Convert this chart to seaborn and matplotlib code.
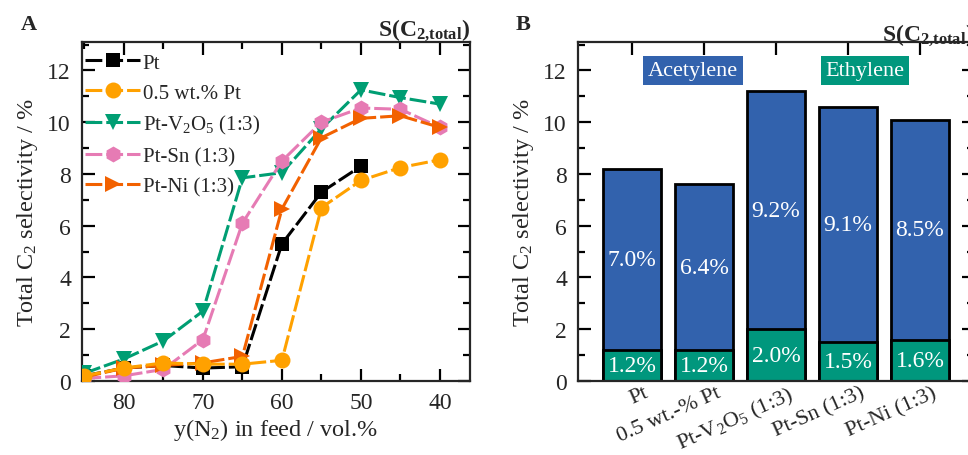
import numpy as np
import pandas as pd
import matplotlib
matplotlib.use("Agg")
import matplotlib.pyplot as plt
import matplotlib.transforms as mtransforms
from matplotlib.lines import Line2D
from matplotlib.ticker import MultipleLocator
import seaborn as sns

# ---------------- data ----------------
n2_feed = [85, 80, 75, 70, 65, 60, 55, 50, 45, 40]
sel_pt = [0.2, 0.5, 0.6, 0.5, 0.55, 5.3, 7.3, 8.3, np.nan, np.nan]
sel_pt05 = [0.2, 0.5, 0.7, 0.65, 0.65, 0.8, 6.7, 7.75, 8.25, 8.55]
sel_ptv = [0.3, 0.85, 1.55, 2.7, 7.85, 8.05, 9.75, 11.25, 10.95, 10.7]
sel_ptsn = [0.1, 0.2, 0.45, 1.6, 6.1, 8.5, 10.0, 10.55, 10.5, 9.8]
sel_ptni = [0.15, 0.5, 0.6, 0.7, 0.95, 6.65, 9.4, 10.15, 10.25, 9.8]
series_names = ["Pt", "0.5 wt.% Pt", "Pt-V$_2$O$_5$ (1:3)", "Pt-Sn (1:3)", "Pt-Ni (1:3)"]

catalysts = ["Pt", "0.5 wt.-% Pt", "Pt-V$_2$O$_5$ (1:3)", "Pt-Sn (1:3)", "Pt-Ni (1:3)"]
acetylene = [7.0, 6.4, 9.2, 9.1, 8.5]
ethylene = [1.2, 1.2, 2.0, 1.5, 1.6]

# ---------------- style ----------------
sns.set_style("ticks")
plt.rcParams["font.family"] = ["Liberation Serif", "DejaVu Serif"]
plt.rcParams["mathtext.fontset"] = "custom"
plt.rcParams["mathtext.rm"] = "Liberation Serif"
plt.rcParams["mathtext.it"] = "Liberation Serif:italic"
plt.rcParams["mathtext.bf"] = "Liberation Serif:bold"

colors = ["#000000", "#FFA100", "#009E73", "#E67BB4", "#F26100"]
markers = ["s", "o", "v", "h", ">"]
msizes = [10, 11.5, 11.5, 11.5, 11.5]
zorders = [3, 6, 4, 5, 5.5]
dash = (0, (5.5, 1.3))
blue = "#3262AD"
green = "#00977D"

LBL = 17.5
TICK = 17

fig = plt.figure(figsize=(9.68, 4.56), dpi=100)
axA = fig.add_axes([82 / 968, 74 / 456, 388 / 968, 339 / 456])
axB = fig.add_axes([578 / 968, 74 / 456, 396 / 968, 339 / 456])


def style_axis(ax):
    for s in ax.spines.values():
        s.set_linewidth(1.6)
        s.set_visible(True)
    ax.tick_params(which="both", direction="in", top=True, right=True, width=1.6,
                   labelsize=TICK, color="black")
    ax.tick_params(axis="y", pad=8)
    ax.tick_params(axis="x", pad=8)
    ax.tick_params(which="major", length=9)
    ax.tick_params(which="minor", length=5)


title_txt = "S(C$_{\\mathbf{2{,}total}}$)"

# ---------------- panel A ----------------
all_series = [sel_pt, sel_pt05, sel_ptv, sel_ptsn, sel_ptni]
handles = []
for name, vals, c, m, ms, z in zip(series_names, all_series, colors, markers, msizes, zorders):
    df = pd.DataFrame({"x": n2_feed, "y": vals}).dropna()
    sns.lineplot(data=df, x="x", y="y", ax=axA, color=c, marker=m, markersize=ms,
                 markeredgewidth=0, linewidth=2.2, linestyle=dash, zorder=z,
                 sort=False, legend=False)
    handles.append(Line2D([], [], color=c, marker=m, markersize=ms, markeredgewidth=0,
                          linewidth=2.2, linestyle=dash, label=name))

axA.set_xlim(85.3, 36.2)
axA.set_ylim(0, 13.1)
axA.xaxis.set_major_locator(MultipleLocator(10))
axA.xaxis.set_minor_locator(MultipleLocator(5))
axA.yaxis.set_major_locator(MultipleLocator(2))
axA.yaxis.set_minor_locator(MultipleLocator(1))
style_axis(axA)
axA.set_xlabel("y(N$_2$) in feed / vol.%", fontsize=LBL, labelpad=2)
axA.set_ylabel("Total C$_2$ selectivity / %", fontsize=LBL, labelpad=5)
axA.set_title(title_txt, loc="right", fontweight="bold", fontsize=17, pad=2)
axA.title.set_position((1.01, 1.0))
leg = axA.legend(handles=handles, loc="upper left", frameon=False, fontsize=15,
                 handlelength=2.65, handletextpad=0.12, labelspacing=0.5,
                 borderaxespad=0.0, borderpad=0.0,
                 bbox_to_anchor=(3 / 388, 1 - 11 / 339))

# ---------------- panel B ----------------
total = [a + e for a, e in zip(acetylene, ethylene)]
dfb = pd.DataFrame({"cat": catalysts, "total": total, "eth": ethylene, "ace": acetylene})
sns.barplot(data=dfb, x="cat", y="total", ax=axB, color=blue, edgecolor="black",
            linewidth=2, width=0.8, saturation=1)
sns.barplot(data=dfb, x="cat", y="eth", ax=axB, color=green, edgecolor="black",
            linewidth=2, width=0.8, saturation=1)

for i, (a, e) in enumerate(zip(acetylene, ethylene)):
    axB.text(i, e / 2, f"{e:.1f}%", ha="center", va="center", color="white", fontsize=17)
    axB.text(i, e + a / 2, f"{a:.1f}%", ha="center", va="center", color="white", fontsize=17)

axB.set_xlim(-0.75, 4.75)
axB.set_ylim(0, 13.1)
axB.yaxis.set_major_locator(MultipleLocator(2))
axB.yaxis.set_minor_locator(MultipleLocator(1))
style_axis(axB)
axB.tick_params(axis="x", which="minor", bottom=False, top=False)
axB.tick_params(axis="x", labelsize=16)
axB.set_xlabel("")
axB.set_ylabel("Total C$_2$ selectivity / %", fontsize=LBL, labelpad=5)
axB.set_title(title_txt, loc="right", fontweight="bold", fontsize=17, pad=2)
axB.title.set_position((1.01, 1.0))
offset = mtransforms.ScaledTranslation(12 / 100, 9 / 100, fig.dpi_scale_trans)
for lab in axB.get_xticklabels():
    lab.set_rotation(24)
    lab.set_ha("right")
    lab.set_va("top")
    lab.set_rotation_mode("anchor")
    lab.set_transform(lab.get_transform() + offset)

axB.text(0.291, 0.917, "Acetylene", transform=axB.transAxes, ha="center", va="center",
         color="white", fontsize=16,
         bbox=dict(boxstyle="square,pad=0.22", facecolor=blue, edgecolor="none"))
axB.text(0.7245, 0.917, "Ethylene", transform=axB.transAxes, ha="center", va="center",
         color="white", fontsize=16,
         bbox=dict(boxstyle="square,pad=0.22", facecolor=green, edgecolor="none"))

fig.text(21 / 968, 1 - 30 / 456, "A", fontweight="bold", fontsize=16, va="baseline")
fig.text(516 / 968, 1 - 30 / 456, "B", fontweight="bold", fontsize=16, va="baseline")

fig.savefig("out.png", dpi=100)
